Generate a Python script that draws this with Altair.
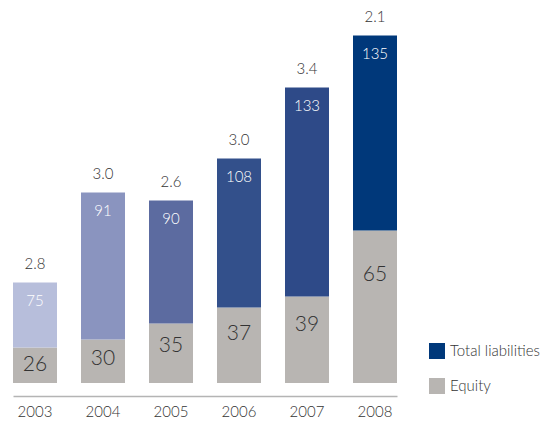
import altair as alt
import pandas as pd

# ---- data ----
years = ["2003", "2004", "2005", "2006", "2007", "2008"]
equity_values = [26, 30, 35, 37, 39, 65]
liability_values = [75, 91, 90, 108, 133, 135]
ratio_labels = ["2.8", "3.0", "2.6", "3.0", "3.4", "2.1"]
# bar segment lengths as drawn in the reference (chart units; the graphic is not to scale)
equity_drawn = [35.5, 43.5, 59.5, 75.5, 86.5, 152.5]
liability_drawn = [65, 147, 123, 149, 209, 195]
series_names = ["Total liabilities", "Equity"]

liability_colors = ["#b7bedb", "#8a94bf", "#5c6ba0", "#33508b", "#2e4a88", "#00387a"]
equity_color = "#b8b5b2"
text_color = "#333333"
FONT = "Lato"
WEIGHT = 300

df = pd.DataFrame({
    "year": years,
    "equity": equity_values,
    "liab": liability_values,
    "ratio": ratio_labels,
    "eq_len": equity_drawn,
    "li_len": liability_drawn,
})
legend_df = pd.DataFrame({"series": series_names})

x = alt.X("year:N", sort=years,
          scale=alt.Scale(paddingInner=24 / 68, paddingOuter=0),
          axis=alt.Axis(title=None, labelAngle=0, ticks=False, tickSize=0,
                        domainColor="#b4b4b4", domainWidth=1.5, offset=13,
                        labelPadding=20, labelBaseline="alphabetic",
                        labelFontSize=15, labelColor=text_color, labelFont=FONT,
                        labelFontWeight=WEIGHT))
yscale = alt.Scale(domain=[0, 375], nice=False, zero=True)

base = alt.Chart(df).transform_calculate(
    total="datum.eq_len + datum.li_len",
    eq_label_pos="0.77 * datum.eq_len - 9",
)

equity_bars = base.mark_bar(color=equity_color).encode(
    x=x,
    y=alt.Y("eq_len:Q", scale=yscale, axis=None),
)

liab_bars = base.mark_bar().encode(
    x=x,
    y=alt.Y("eq_len:Q", scale=yscale, axis=None),
    y2="total:Q",
    fill=alt.Fill("year:N", scale=alt.Scale(domain=years, range=liability_colors), legend=None),
)

ratio_text = base.mark_text(fontSize=15, font=FONT, fontWeight=WEIGHT, color=text_color,
                            baseline="middle", dy=-18.5).encode(
    x=x, y=alt.Y("total:Q", scale=yscale, axis=None), text="ratio:N")

liab_text = base.mark_text(fontSize=15, font=FONT, fontWeight=WEIGHT, color="white",
                           baseline="middle", dy=18.5).encode(
    x=x, y=alt.Y("total:Q", scale=yscale, axis=None), text="liab:Q")

eq_text = base.mark_text(fontSize=21, font=FONT, fontWeight=WEIGHT, color=text_color,
                         baseline="middle").encode(
    x=x, y=alt.Y("eq_label_pos:Q", scale=yscale, axis=None), text="equity:Q")

legend_layer = alt.Chart(legend_df).mark_square(opacity=0).encode(
    color=alt.Color("series:N",
                    scale=alt.Scale(domain=series_names, range=["#00387a", equity_color]),
                    legend=alt.Legend(title=None, orient="none", legendX=416, legendY=335,
                                      symbolType="square", symbolSize=256,
                                      symbolOpacity=1, symbolStrokeWidth=0,
                                      labelFontSize=15, labelFont=FONT, labelFontWeight=WEIGHT,
                                      labelColor=text_color,
                                      labelOffset=5, rowPadding=19, padding=0))
)

chart = alt.layer(equity_bars, liab_bars, ratio_text, liab_text, eq_text, legend_layer).properties(
    width=384, height=375,
    autosize=alt.AutoSizeParams(type="none"),
    padding={"left": 5, "top": 0, "right": 152, "bottom": 38},
).configure_view(stroke=None)

chart.save("out.html", embed_options={"renderer": "svg", "actions": False})
